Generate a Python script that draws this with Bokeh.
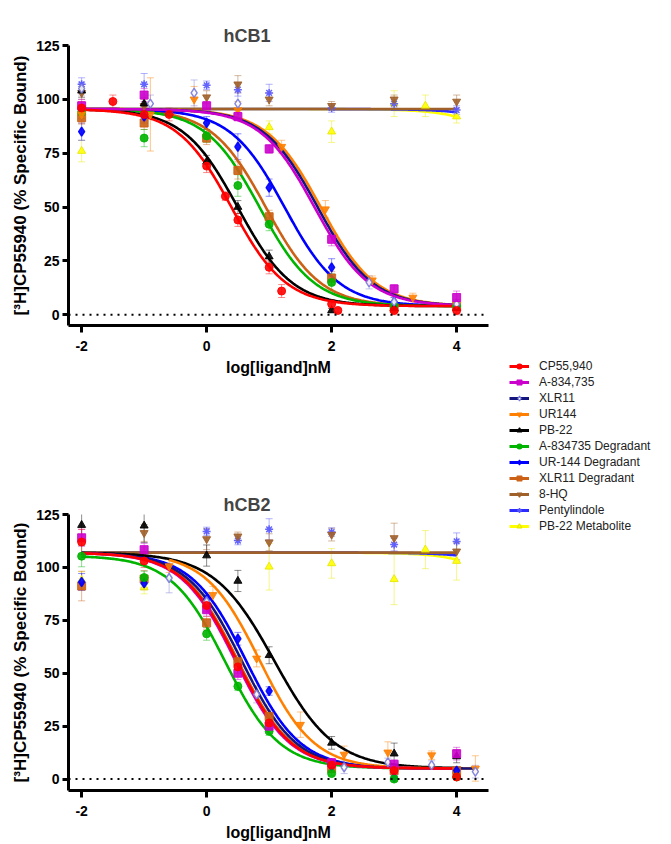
import numpy as np
from bokeh.plotting import figure
from bokeh.models import (ColumnDataSource, Whisker, TeeHead, Span, Legend,
                          LegendItem, FixedTicker)
from bokeh.layouts import row, column
from bokeh.embed import file_html
from bokeh.resources import INLINE

# ---------------- names & styles ----------------
NAMES = ["CP55,940", "A-834,735", "XLR11", "UR144", "PB-22",
         "A-834735 Degradant", "UR-144 Degradant", "XLR11 Degradant",
         "8-HQ", "Pentylindole", "PB-22 Metabolite"]

X_TICKS = [-2, 0, 2, 4]
Y_TICKS = [0, 25, 50, 75, 100, 125]

# ---------------- hCB1 data (log[ligand] nM, % specific bound, error) ----------------
CB1_X = [-2, -1, 0, 0.5, 1, 2, 3, 4]

cb1_cp_x = [-2, -1.5, -1, -0.6, 0, 0.3, 0.5, 1, 1.2, 2, 2.1, 3, 4]
cb1_cp_y = [96, 99, 93, 93, 69, 55, 44, 22, 11, 5, 2, 2, 2]
cb1_cp_e = [3, 3, 3, 3, 3, 2, 3, 3, 3, 2, 1, 2, 2]

cb1_a83_y = [97, 102, 97, 92, 77, 35, 12, 8]
cb1_a83_e = [3, 3, 2, 2, 2, 3, 2, 3]

cb1_xlr_x = [-2, -0.9, -0.2, 0.5, 2.6, 3, 4]
cb1_xlr_y = [105, 98, 103, 98, 15, 6, 5]
cb1_xlr_e = [3, 4, 6, 5, 3, 2, 2]

cb1_ur_x = [-2, -0.9, -0.2, 0.5, 1.2, 1.9, 2.65, 3.3, 4]
cb1_ur_y = [93, 93, 100, 95, 78, 49, 16, 8, 5]
cb1_ur_e = [4, 17, 6, 4, 3, 4, 2, 2, 2]

cb1_pb_y = [104, 98, 71, 50, 27, 2, 3, 3]
cb1_pb_e = [3, 3, 3, 3, 3, 1, 1, 1]

cb1_a83d_y = [94, 82, 83, 60, 42, 15, 4, 4]
cb1_a83d_e = [3, 4, 3, 5, 3, 4, 1, 1]

cb1_urd_y = [85, 92, 89, 78, 59, 22, 6, 4]
cb1_urd_e = [4, 3, 3, 6, 4, 4, 2, 1]

cb1_xlrd_y = [91.5, 89, 82, 67, 45.5, 17, 3, 4]
cb1_xlrd_e = [3, 3, 3, 4, 3, 3, 1, 1]

cb1_hq_y = [103, 97, 101, 107, 100, 97, 100, 99]
cb1_hq_e = [3, 3, 3, 4, 3, 2, 2, 3]

cb1_pent_y = [107, 107, 106.5, 104.5, 103, 96, 98, 95]
cb1_pent_e = [3, 5, 2, 3, 4, 2, 2, 2]

cb1_pbm_x = [-2, 1, 2, 3, 3.5, 4]
cb1_pbm_y = [76, 87, 85, 98, 97, 92]
cb1_pbm_e = [5, 3, 5, 6, 5, 3]

# fitted curve parameters (hCB1)
CB1_TOP = [95.5] * 11
CB1_BOTTOM = [4, 4, 4, 4, 4, 4, 4, 4, 95.5, 0, 0]
CB1_LOGIC50 = [0.40, 1.73, 1.78, 1.83, 0.50, 0.85, 1.25, 0.95, 0.0, 5.8, 5.4]
CB1_HILL = [1, 1, 1, 1, 1, 1, 1, 1, 1, 1, 1]
CB1_XMIN = [-2] * 11
CB1_XMAX = [4] * 11

# ---------------- hCB2 data ----------------
CB2_X = [-2, -1, 0, 0.5, 1, 2, 3, 4]

cb2_cp_y = [112, 103, 82, 53, 26.5, 6.6, 4, 1]
cb2_cp_e = [6, 3, 3, 3, 3, 2, 2, 1]

cb2_a83_y = [114, 108.4, 80, 50, 25, 7.7, 7, 12]
cb2_a83_e = [4, 3, 3, 3, 2, 2, 2, 3]

cb2_xlr_x = [-0.6, 0, 0.8, 2.2, 2.9, 3.6, 4.3]
cb2_xlr_y = [95, 84, 40, 5.6, 7.9, 6.6, 3.5]
cb2_xlr_e = [7, 3, 4, 3, 2, 2, 3]

cb2_ur_x = [-0.6, 0.1, 0.8, 1.5, 2.2, 2.9, 3.6, 4.3]
cb2_ur_y = [100.6, 87, 57, 25.7, 11.6, 12.6, 11.3, 5]
cb2_ur_e = [3, 4, 4, 6, 4, 5, 2, 6]

cb2_pb_y = [120, 119.7, 105.6, 93.6, 58.5, 17.1, 12, 10.7]
cb2_pb_e = [7, 8, 5, 5, 4, 3, 5, 3]

cb2_a83d_y = [105.3, 95.2, 68.6, 43.8, 22.6, 2.6, 0, 1]
cb2_a83d_e = [5, 3, 3, 2, 2, 1, 1, 1]

cb2_urd_y = [93.1, 92.5, 85, 66.3, 41.6, 6, 0.7, 4]
cb2_urd_e = [4, 3, 3, 3, 2, 2, 1, 1]

cb2_xlrd_y = [91.2, 94.5, 73.8, 55.4, 29.6, 5, 4, 4]
cb2_xlrd_e = [7, 4, 3, 3, 3, 2, 1, 1]

cb2_hq_x = [-1, 0, 0.5, 1, 2, 3, 4]
cb2_hq_y = [116.3, 113.4, 114.7, 111.9, 115.5, 113.9, 107.6]
cb2_hq_e = [4, 5, 2, 4, 3, 7, 4]

cb2_pent_x = [0, 0.5, 1, 2, 3, 4]
cb2_pent_y = [117, 112.7, 118, 116.7, 110.8, 112.3]
cb2_pent_e = [2, 2, 5, 2, 3, 4]

cb2_pbm_x = [-2, -1, 1, 2, 3, 3.5, 4]
cb2_pbm_y = [94, 90.5, 100.3, 101.9, 94.4, 108.4, 103]
cb2_pbm_e = [4, 3, 11, 7, 12, 9, 9]

# fitted curve parameters (hCB2)
CB2_TOP = [107, 107, 107, 107, 107, 105.6, 107, 107, 107, 107, 107]
CB2_BOTTOM = [5, 5, 5, 5, 5, 5, 5, 5, 107, 0, 0]
CB2_LOGIC50 = [0.48, 0.46, 0.56, 0.85, 1.08, 0.30, 0.63, 0.50, 0.0, 5.9, 5.5]
CB2_HILL = [1, 1, 1, 1, 0.9, 1, 1, 1, 1, 1, 1]
CB2_XMIN = [-2, -2, -2, -0.6, -2, -2, -2, -2, -2, -2, -2]
CB2_XMAX = [4, 4, 4.3, 4.3, 4, 4, 4, 4, 4, 4, 4]

CB1_POINTS = [
    (cb1_cp_x, cb1_cp_y, cb1_cp_e),
    (CB1_X, cb1_a83_y, cb1_a83_e),
    (cb1_xlr_x, cb1_xlr_y, cb1_xlr_e),
    (cb1_ur_x, cb1_ur_y, cb1_ur_e),
    (CB1_X, cb1_pb_y, cb1_pb_e),
    (CB1_X, cb1_a83d_y, cb1_a83d_e),
    (CB1_X, cb1_urd_y, cb1_urd_e),
    (CB1_X, cb1_xlrd_y, cb1_xlrd_e),
    (CB1_X, cb1_hq_y, cb1_hq_e),
    (CB1_X, cb1_pent_y, cb1_pent_e),
    (cb1_pbm_x, cb1_pbm_y, cb1_pbm_e),
]
CB2_POINTS = [
    (CB2_X, cb2_cp_y, cb2_cp_e),
    (CB2_X, cb2_a83_y, cb2_a83_e),
    (cb2_xlr_x, cb2_xlr_y, cb2_xlr_e),
    (cb2_ur_x, cb2_ur_y, cb2_ur_e),
    (CB2_X, cb2_pb_y, cb2_pb_e),
    (CB2_X, cb2_a83d_y, cb2_a83d_e),
    (CB2_X, cb2_urd_y, cb2_urd_e),
    (CB2_X, cb2_xlrd_y, cb2_xlrd_e),
    (cb2_hq_x, cb2_hq_y, cb2_hq_e),
    (cb2_pent_x, cb2_pent_y, cb2_pent_e),
    (cb2_pbm_x, cb2_pbm_y, cb2_pbm_e),
]

LINE_COLORS = ["#FF0000", "#CC00CC", "#15157F", "#FF8000", "#000000", "#00B400",
               "#0000FF", "#CC6014", "#A0602A", "#2B2BFF", "#FFFF00"]
MARKERS = ["circle", "square", "diamond", "inverted_triangle", "triangle", "circle",
           "diamond", "square", "inverted_triangle", "asterisk", "triangle"]
MARK_FILL = ["#FF0000", "#CC00CC", "#FFFFFF", "#FF8000", "#000000", "#00B400",
             "#0000FF", "#CC6014", "#A0602A", "#6666FF", "#FFFF00"]
MARK_LINE = ["#FF0000", "#CC00CC", "#7A7AD8", "#FF8000", "#000000", "#00B400",
             "#0000FF", "#CC6014", "#A0602A", "#5555FF", "#E8E800"]
MARK_SIZE = [8, 8, 9, 8, 8, 8, 9, 8, 8, 8, 8]

FONT = "Liberation Sans"


def logistic(x, top, bottom, logc, hill):
    return bottom + (top - bottom) / (1.0 + 10.0 ** ((x - logc) * hill))


def make_panel(title, points, tops, bottoms, logc, hills, xmin, xmax,
               height, border_top, border_bottom, y_start):
    p = figure(width=496, height=height, output_backend="svg", toolbar_location=None,
               x_range=(-2.21, 4.51), y_range=(y_start, 125),
               min_border_left=68, min_border_right=8,
               min_border_top=border_top, min_border_bottom=border_bottom)
    p.title.text = title
    p.title.text_font = FONT
    p.title.text_font_size = "18px"
    p.title.text_font_style = "bold"
    p.title.align = "left"
    p.title.offset = 155
    p.title.standoff = 0
    p.outline_line_color = None
    p.grid.visible = False

    for ax in (p.xaxis[0], p.yaxis[0]):
        ax.axis_line_width = 3
        ax.axis_line_color = "black"
        ax.major_tick_line_width = 3
        ax.major_tick_in = 0
        ax.minor_tick_line_color = None
        ax.major_label_text_font = FONT
        ax.major_label_text_font_size = "14px"
        ax.major_label_text_font_style = "bold"
        ax.major_label_text_color = "black"
        ax.axis_label_text_font = FONT
        ax.axis_label_text_font_style = "bold"
        ax.axis_label_text_color = "black"
    p.xaxis.ticker = FixedTicker(ticks=X_TICKS)
    p.xaxis.major_label_overrides = {t: str(t) for t in X_TICKS}
    p.yaxis.ticker = FixedTicker(ticks=Y_TICKS)
    p.xaxis.major_tick_out = 7
    p.yaxis.major_tick_out = 6
    p.xaxis.axis_label = "log[ligand]nM"
    p.xaxis.axis_label_text_font_size = "16px"
    p.xaxis.major_label_standoff = 8
    p.xaxis.axis_label_standoff = 5
    p.yaxis.axis_label = "[³H]CP55940 (% Specific Bound)"
    p.yaxis.axis_label_text_font_size = "17px"
    p.yaxis.major_label_standoff = 3
    p.yaxis.axis_label_standoff = 3

    p.add_layout(Span(location=0, dimension="width", line_color="black",
                      line_width=2, line_dash="2 5"))

    order = list(range(len(NAMES)))[::-1]
    # fitted curves
    for i in order:
        xs = np.linspace(xmin[i], xmax[i], 300)
        ys = logistic(xs, tops[i], bottoms[i], logc[i], hills[i])
        p.line(xs, ys, line_color=LINE_COLORS[i], line_width=2.6)
    # error bars & points
    for i in order:
        x, y, e = points[i]
        src = ColumnDataSource(dict(x=x, y=y,
                                    lo=[a - b for a, b in zip(y, e)],
                                    hi=[a + b for a, b in zip(y, e)]))
        ec = MARK_LINE[i]
        w = Whisker(source=src, base="x", upper="hi", lower="lo",
                    line_color=ec, line_alpha=0.45, line_width=1,
                    upper_head=TeeHead(size=7, line_color=ec, line_alpha=0.45, line_width=1),
                    lower_head=TeeHead(size=7, line_color=ec, line_alpha=0.45, line_width=1))
        p.add_layout(w)
        p.scatter("x", "y", source=src, marker=MARKERS[i], size=MARK_SIZE[i],
                  fill_color=MARK_FILL[i], line_color=MARK_LINE[i],
                  line_width=1.5 if MARKERS[i] in ("asterisk", "diamond") else 1,
                  fill_alpha=0.9, line_alpha=0.9)
    return p


p1 = make_panel("hCB1", CB1_POINTS, CB1_TOP, CB1_BOTTOM, CB1_LOGIC50, CB1_HILL,
                CB1_XMIN, CB1_XMAX, height=440, border_top=45, border_bottom=115, y_start=-5)
p2 = make_panel("hCB2", CB2_POINTS, CB2_TOP, CB2_BOTTOM, CB2_LOGIC50, CB2_HILL,
                CB2_XMIN, CB2_XMAX, height=403, border_top=74, border_bottom=50, y_start=-5.4)

# legend panel (its glyphs sit outside the visible range; only the legend shows)
p3 = figure(width=174, height=843, output_backend="svg", toolbar_location=None,
            x_axis_location=None, y_axis_location=None, x_range=(0, 1), y_range=(0, 1),
            min_border=0)
p3.outline_line_color = None
p3.grid.visible = False
items = []
for i, name in enumerate(NAMES):
    rl = p3.line(x=[-5, -4], y=[-5, -4], line_color=LINE_COLORS[i], line_width=3)
    rs = p3.scatter(x=[-5], y=[-5], marker=MARKERS[i], size=7,
                    fill_color=MARK_FILL[i], line_color=MARK_LINE[i], line_width=1.2)
    items.append(LegendItem(label=name, renderers=[rl, rs]))
legend = Legend(items=items, location=(13, 310), glyph_width=20, glyph_height=12,
                label_height=12, spacing=2, padding=0, margin=0, label_standoff=10,
                label_text_font=FONT, label_text_font_size="12px",
                label_text_color="#222222", border_line_color=None,
                background_fill_alpha=0)
p3.add_layout(legend)

layout = row(column(p1, p2), p3)
open("out.html", "w").write(file_html(layout, INLINE))
